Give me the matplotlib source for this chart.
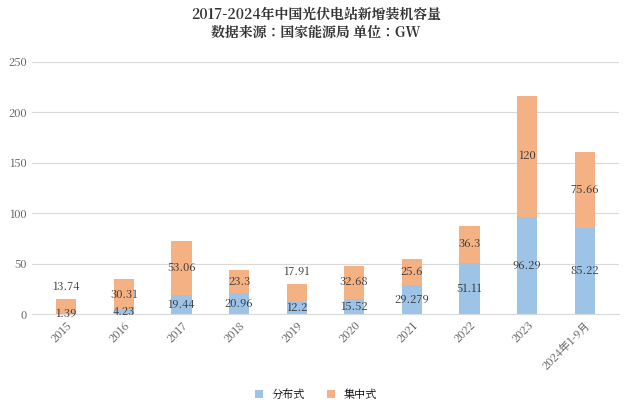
import matplotlib
matplotlib.use("Agg")
import matplotlib.pyplot as plt
from matplotlib import font_manager as fm

cjk = None
for f in fm.findSystemFonts():
    if "CJK" in f or "cjk" in f.lower():
        try:
            fm.fontManager.addfont(f)
            name = fm.FontProperties(fname=f).get_name()
            if cjk is None or "SC" in name:
                cjk = name
        except Exception:
            pass
plt.rcParams['font.family'] = [cjk or 'Noto Sans CJK SC', 'DejaVu Sans']

categories = ["2015","2016","2017","2018","2019","2020","2021","2022","2023","2024年1-9月"]
distributed = [1.39,4.23,19.44,20.96,12.2,15.52,29.279,51.11,96.29,85.22]
centralized = [13.74,30.31,53.06,23.3,17.91,32.68,25.6,36.3,120,75.66]
dist_labels = ["1.39","4.23","19.44","20.96","12.2","15.52","29.279","51.11","96.29","85.22"]
cent_labels = ["13.74","30.31","53.06","23.3","17.91","32.68","25.6","36.3","120","75.66"]

fig = plt.figure(figsize=(6.32,4.11), dpi=100)
ax = fig.add_axes([0.05, 0.235, 0.93, 0.615])
x = range(len(categories))
ax.bar(x, distributed, width=0.35, color="#9DC3E6", label="分布式", zorder=2)
ax.bar(x, centralized, width=0.35, bottom=distributed, color="#F4B183", label="集中式", zorder=2)
for i in x:
    d, c = distributed[i], centralized[i]
    ax.text(i, max(d/2, 1), dist_labels[i], ha="center", va="center", fontsize=8, color="#333333", zorder=3)
    yc = d + c/2 if c > 20 else d + c + 12
    ax.text(i, yc, cent_labels[i], ha="center", va="center", fontsize=8, color="#333333", zorder=3)
ax.set_ylim(0, 250)
ax.set_yticks(range(0, 251, 50))
ax.set_xlim(-0.6, len(categories)-0.4)
ax.set_xticks(list(x))
ax.set_xticklabels(categories, rotation=45, ha="right", rotation_mode="anchor", fontsize=8, color="#595959")
ax.tick_params(axis="y", labelsize=8, labelcolor="#595959", length=0)
ax.tick_params(axis="x", length=0)
ax.grid(axis="y", color="#D9D9D9", linewidth=0.8, zorder=0)
for s in ["top","right","left"]:
    ax.spines[s].set_visible(False)
ax.spines["bottom"].set_color("#D9D9D9")
fig.suptitle("2017-2024年中国光伏电站新增装机容量\n数据来源：国家能源局 单位：GW", y=0.985, fontsize=10, fontweight="bold", color="#333333", linespacing=1.2)
fig.legend(loc="lower center", ncol=2, frameon=False, fontsize=8, handlelength=0.7, handleheight=0.7, bbox_to_anchor=(0.5, 0.0))
fig.savefig("out.png", dpi=100)
